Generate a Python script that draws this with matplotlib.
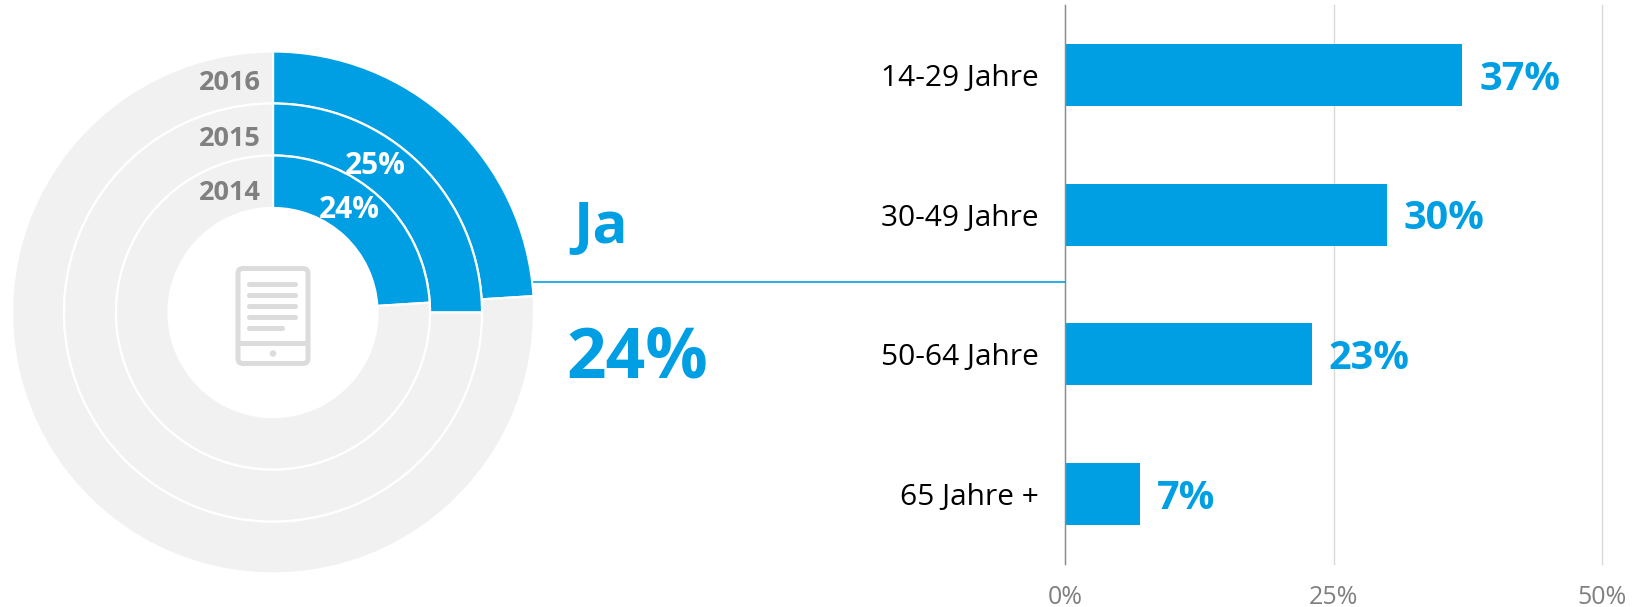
import matplotlib
matplotlib.use('Agg')
import matplotlib.pyplot as plt
from matplotlib.lines import Line2D
from matplotlib.patches import Circle, FancyBboxPatch, Rectangle

plt.rcParams['font.family'] = ['Open Sans', 'DejaVu Sans']

years = ['2016', '2015', '2014']
ja_values = [24, 25, 24]
ring_labels = ['', '25%', '24%']

age_groups = ['14-29 Jahre', '30-49 Jahre', '50-64 Jahre', '65 Jahre +']
age_values = [37, 30, 23, 7]
x_ticks = [0, 25, 50]

blue = '#009FE3'
light = '#F1F1F1'
W, H = 1637, 607

fig = plt.figure(figsize=(W / 100, H / 100), dpi=100, facecolor='white')

# donut, units are pixels around the centre
ax = fig.add_axes([0, 0, 546 / W, 1])
radii = [261, 209, 157, 104.5]
for i, v in enumerate(ja_values):
    ax.pie([v, 100 - v], radius=radii[i], colors=[blue, light], startangle=90,
           counterclock=False,
           wedgeprops=dict(width=radii[i] - radii[i + 1], edgecolor='white', linewidth=1.6))
ax.set_xlim(-273, 273)
ax.set_ylim(312.5 - H, 312.5)
ax.set_aspect('equal')

label_y = [230, 173, 120]
for year, y in zip(years, label_y):
    ax.text(-12, y, year, ha='right', va='center', fontsize=19.5, fontweight='bold', color='#808080')
ax.text(102, 147, ring_labels[1], ha='center', va='center', fontsize=21.5, fontweight='bold', color='white')
ax.text(76, 102, ring_labels[2], ha='center', va='center', fontsize=21.5, fontweight='bold', color='white')

# tablet icon
icon = '#DCDCDC'
ax.add_patch(FancyBboxPatch((-35, -51), 70, 95, boxstyle='round,pad=0,rounding_size=5',
                            fc='white', ec=icon, lw=3.6))
ax.add_patch(Rectangle((-36, -33.5), 72, 5, fc=icon, ec='none'))
for y, w in zip([28, 17, 6, -5, -16], [51, 51, 51, 51, 38]):
    ax.add_patch(FancyBboxPatch((-26, y - 2.5), w, 5, boxstyle='round,pad=0,rounding_size=2.5',
                                fc=icon, ec='none'))
ax.add_patch(Circle((0, -41), 3.3, fc=icon, ec='none'))

# bars
bx = fig.add_axes([1065 / W, 1 - 564 / H, 537 / W, 559 / H])
bx.barh(age_groups, age_values, height=0.445, color=blue, zorder=2)
bx.set_xlim(0, 50)
bx.set_ylim(3.5, -0.5)
bx.set_xticks(x_ticks)
bx.set_xticklabels([f'{t}%' for t in x_ticks], fontsize=18, color='#808080')
bx.tick_params(axis='x', length=0, pad=15)
bx.tick_params(axis='y', length=0, pad=19, labelsize=21.5, labelcolor='black')
bx.grid(axis='x', color='#D9D9D9', linewidth=1, zorder=0, clip_on=False)
bx.set_axisbelow(True)
for s in ['top', 'right', 'bottom']:
    bx.spines[s].set_visible(False)
bx.spines['left'].set_color('#8C8C8C')
bx.spines['left'].set_linewidth(1)
for i, v in enumerate(age_values):
    bx.annotate(f'{v}%', (v, i), xytext=(12, -3), textcoords='offset points', va='center',
                fontsize=28.5, fontweight='bold', color=blue)

# connector and big number
fig.add_artist(Line2D([534 / W, 1065 / W], [1 - 282 / H] * 2, color=blue, linewidth=1.2))
fig.text(601 / W, 1 - 228 / H, 'Ja', ha='center', va='center', fontsize=42, fontweight='bold', color=blue)
fig.text(637 / W, 1 - 359 / H, '24%', ha='center', va='center', fontsize=50, fontweight='bold', color=blue)

fig.savefig('out.png', dpi=100)
plt.close(fig)
